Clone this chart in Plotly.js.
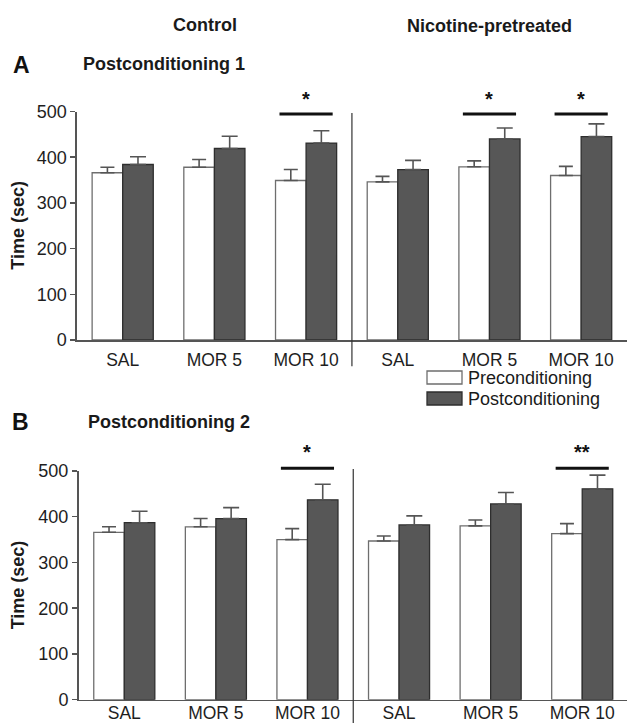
<!DOCTYPE html>
<html>
<head>
<meta charset="utf-8">
<script src="https://cdn.plot.ly/plotly-3.0.1.min.js"></script>
<style>
  html, body { margin: 0; padding: 0; background: #ffffff; }
  #chart { width: 627px; height: 723px; }
</style>
</head>
<body>
<div id="chart"></div>
<script>
// ---------------- data ----------------
const categories = ['SAL', 'MOR 5', 'MOR 10', 'SAL', 'MOR 5', 'MOR 10'];
const groupLabels = ['Control', 'Nicotine-pretreated'];
const seriesNames = ['Preconditioning', 'Postconditioning'];
const yTicks = [0, 100, 200, 300, 400, 500];

// Panel A - Postconditioning 1
const preA      = [366, 378, 349, 346, 379, 360];
const preAErr   = [12, 17, 24, 12, 13, 20];
const postA     = [384, 419, 431, 373, 440, 445];
const postAErr  = [17, 27, 27, 20, 24, 28];
const sigA      = [2, 4, 5];
const sigALabel = ['*', '*', '*'];

// Panel B - Postconditioning 2
const preB      = [366, 378, 350, 347, 380, 363];
const preBErr   = [12, 18, 24, 11, 13, 22];
const postB     = [387, 396, 437, 382, 428, 461];
const postBErr  = [25, 24, 34, 20, 25, 30];
const sigB      = [2, 5];
const sigBLabel = ['*', '**'];

// ---------------- layout constants ----------------
const W = 627, H = 723;
const FONT = 'Liberation Sans, Arial, Helvetica, sans-serif';
const px2x = p => p / W;
const px2y = p => (H - p) / H;
const xIdx = categories.map((_, i) => i);
const zeros = categories.map(() => 0);
const nCat = categories.length;

const preColor = '#ffffff', preLine = '#6e6e6e';
const postColor = '#575757', postLine = '#2e2e2e';
const errColor = '#555555';

function barTrace(y, err, isPost, xa, ya) {
  return {
    type: 'bar',
    name: isPost ? seriesNames[1] : seriesNames[0],
    x: xIdx, y: y,
    xaxis: xa, yaxis: ya,
    showlegend: false,
    marker: {
      color: isPost ? postColor : preColor,
      line: { color: isPost ? postLine : preLine, width: 1.3 }
    },
    error_y: {
      type: 'data', symmetric: false, array: err, arrayminus: zeros,
      color: errColor, thickness: 1.6, width: isPost ? 8 : 7
    },
    hoverinfo: 'skip'
  };
}

const data = [
  barTrace(preA, preAErr, false, 'x', 'y'),
  barTrace(postA, postAErr, true, 'x', 'y'),
  barTrace(preB, preBErr, false, 'x2', 'y2'),
  barTrace(postB, postBErr, true, 'x2', 'y2')
];

function xAxis(domainStart, rangeEnd, anchor, standoff) {
  return {
    domain: [domainStart, 1], range: [-0.5, rangeEnd], anchor: anchor,
    tickvals: xIdx, ticktext: categories, ticks: '',
    showline: true, linecolor: '#555555', linewidth: 1.5,
    showgrid: false, zeroline: false, fixedrange: true,
    ticklabelstandoff: standoff,
    tickfont: { family: FONT, size: 17.5, color: '#1e1e1e' }
  };
}
function yAxis(dom, anchor) {
  return {
    domain: dom, range: [0, 500], anchor: anchor,
    tickvals: yTicks, ticktext: yTicks.map(String),
    ticks: 'outside', ticklen: 5, tickwidth: 1.5, tickcolor: '#555555',
    showline: true, linecolor: '#555555', linewidth: 1.5,
    showgrid: false, zeroline: false, fixedrange: true,
    tickfont: { family: FONT, size: 18, color: '#1e1e1e' }
  };
}

const domA = [px2y(340), px2y(111.5)];
const domB = [px2y(699.7), px2y(471)];

const annotations = [];
const shapes = [];
function txt(x, y, text, opts) {
  annotations.push(Object.assign({
    xref: 'paper', yref: 'paper', x: px2x(x), y: px2y(y), text: text,
    showarrow: false, xanchor: 'center', yanchor: 'middle',
    font: { family: FONT, size: 18, color: '#1a1a1a' }
  }, opts || {}));
}
const bold = (s) => '<b>' + s + '</b>';

// Top group labels
txt(205, 25, bold(groupLabels[0]));
txt(489, 26, bold(groupLabels[1]));
// Panel letters and titles
txt(21, 65, bold('A'), { font: { family: FONT, size: 23, color: '#111' } });
txt(81, 64, bold('Postconditioning 1'), { xanchor: 'left' });
txt(20, 422, bold('B'), { font: { family: FONT, size: 23, color: '#111' } });
txt(86, 422, bold('Postconditioning 2'), { xanchor: 'left' });
// Y titles
txt(18, (340 + 111.5) / 2, bold('Time (sec)'), { textangle: -90 });
txt(18, (699.7 + 471) / 2, bold('Time (sec)'), { textangle: -90 });

// Legend (manual)
const legendRows = [
  { y0: 371, y1: 384, fill: preColor, line: preLine, name: seriesNames[0] },
  { y0: 392, y1: 405, fill: postColor, line: postLine, name: seriesNames[1] }
];
legendRows.forEach(r => {
  shapes.push({
    type: 'rect', xref: 'paper', yref: 'paper',
    x0: px2x(427), x1: px2x(462), y0: px2y(r.y1), y1: px2y(r.y0),
    fillcolor: r.fill, line: { color: r.line, width: 1.3 }
  });
  txt(466, (r.y0 + r.y1) / 2 + 0.5, r.name, { xanchor: 'left', font: { family: FONT, size: 18, color: '#1a1a1a' } });
});

// Divider between Control and Nicotine groups (category boundary 2.5)
const dividerAt = 2.5;
function domX(v) { return (v + 0.5) / nCat; }
shapes.push({ type: 'line', xref: 'x domain', yref: 'y domain',
  x0: domX(dividerAt), x1: domX(dividerAt), y0: -0.115, y1: 0.993,
  line: { color: '#333333', width: 1.2 } });
shapes.push({ type: 'line', xref: 'x2 domain', yref: 'y2 domain',
  x0: (dividerAt + 0.5) / (5.489 + 0.5), x1: (dividerAt + 0.5) / (5.489 + 0.5), y0: -0.12, y1: 1.009,
  line: { color: '#333333', width: 1.2 } });

// Significance bars and stars
function sig(list, labels, xr, yr, span, lineVal, starVal) {
  list.forEach((c, k) => {
    const f = v => (v + 0.5) / span;
    shapes.push({ type: 'line', xref: xr + ' domain', yref: yr + ' domain',
      x0: f(c - 0.29), x1: f(c + 0.29), y0: lineVal / 500, y1: lineVal / 500,
      line: { color: '#111111', width: 2.8 } });
    annotations.push({ xref: xr + ' domain', yref: yr + ' domain',
      x: f(c), y: starVal / 500, text: bold(labels[k]), showarrow: false,
      xanchor: 'center', yanchor: 'middle',
      font: { family: FONT, size: 20, color: '#111111' } });
  });
}
sig(sigA, sigALabel, 'x', 'y', 6, 494.5, 528);
sig(sigB, sigBLabel, 'x2', 'y2', 5.989, 506, 542);

const layout = {
  width: W, height: H,
  margin: { l: 0, r: 0, t: 0, b: 0, pad: 0 },
  paper_bgcolor: '#ffffff', plot_bgcolor: 'rgba(0,0,0,0)',
  barmode: 'group', bargap: 1 / 3, bargroupgap: 0,
  showlegend: false,
  xaxis: xAxis(px2x(76.85), 5.5, 'y', 3),
  yaxis: yAxis(domA, 'x'),
  xaxis2: xAxis(px2x(78.5), 5.489, 'y2', -3),
  yaxis2: yAxis(domB, 'x2'),
  annotations: annotations,
  shapes: shapes,
  font: { family: FONT }
};

Plotly.newPlot('chart', data, layout, { displayModeBar: false, staticPlot: true });
</script>
</body>
</html>
